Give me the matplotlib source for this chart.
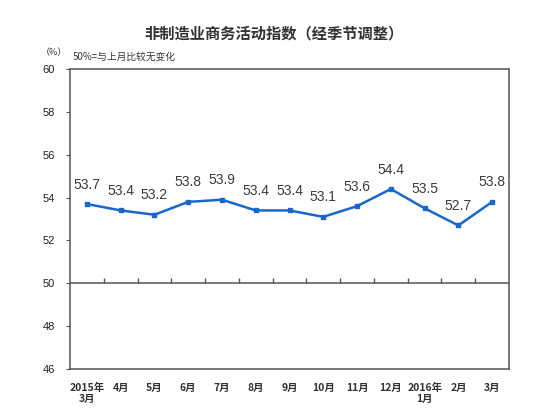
import matplotlib.pyplot as plt
import numpy as np

plt.rcParams['font.family'] = ['Noto Sans CJK SC', 'DejaVu Sans']

months = ['2015年\n3月', '4月', '5月', '6月', '7月', '8月', '9月',
          '10月', '11月', '12月', '2016年\n1月', '2月', '3月']
values = [53.7, 53.4, 53.2, 53.8, 53.9, 53.4, 53.4,
          53.1, 53.6, 54.4, 53.5, 52.7, 53.8]
y_ticks = [46, 48, 50, 52, 54, 56, 58, 60]

fig = plt.figure(figsize=(5.54, 4.13), dpi=100)
ax = fig.add_axes([0.1264, 0.1065, 0.7924, 0.7264])

x = np.arange(len(values))
line_color = '#1a66cc'
ax.plot(x, values, color=line_color, linewidth=1.8, marker='s',
        markersize=3.5, zorder=3)

for xi, v in zip(x, values):
    ax.annotate(f'{v:.1f}', (xi, v), xytext=(0, 9), textcoords='offset points',
                ha='center', va='bottom', fontsize=10, color='#3a3a3a',
                family=['Liberation Sans'])

ax.set_xlim(-0.5, len(values) - 0.5)
ax.set_ylim(46, 60)

# 50 baseline with category separators
ax.axhline(50, color='#555555', linewidth=1.1, zorder=2)
ax.vlines(np.arange(0.5, len(values) - 1), 50, 50.25, color='#555555',
          linewidth=1.0, zorder=2)

ax.set_yticks(y_ticks)
ax.set_yticklabels([str(t) for t in y_ticks], fontsize=8, color='#222222',
                   family=['Liberation Sans'])
ax.tick_params(axis='y', direction='out', length=3, width=0.8,
               color='#555555', pad=8)

ax.set_xticks(x)
ax.set_xticklabels(months, fontsize=7.5, fontweight='bold', color='#333333',
                   linespacing=1.1)
ax.tick_params(axis='x', length=0, pad=10)

for s in ax.spines.values():
    s.set_color('#555555')
    s.set_linewidth(1.1)

fig.text(0.495, 0.918, '非制造业商务活动指数（经季节调整）', ha='center',
         va='center', fontsize=11, fontweight='bold', color='#333333')
fig.text(0.097, 0.873, '（%）', ha='center', va='center', fontsize=6.5,
         color='#333333')
fig.text(0.131, 0.862, '50%=与上月比较无变化', ha='left', va='center',
         fontsize=7, color='#333333')

fig.savefig('out.png', dpi=100)
